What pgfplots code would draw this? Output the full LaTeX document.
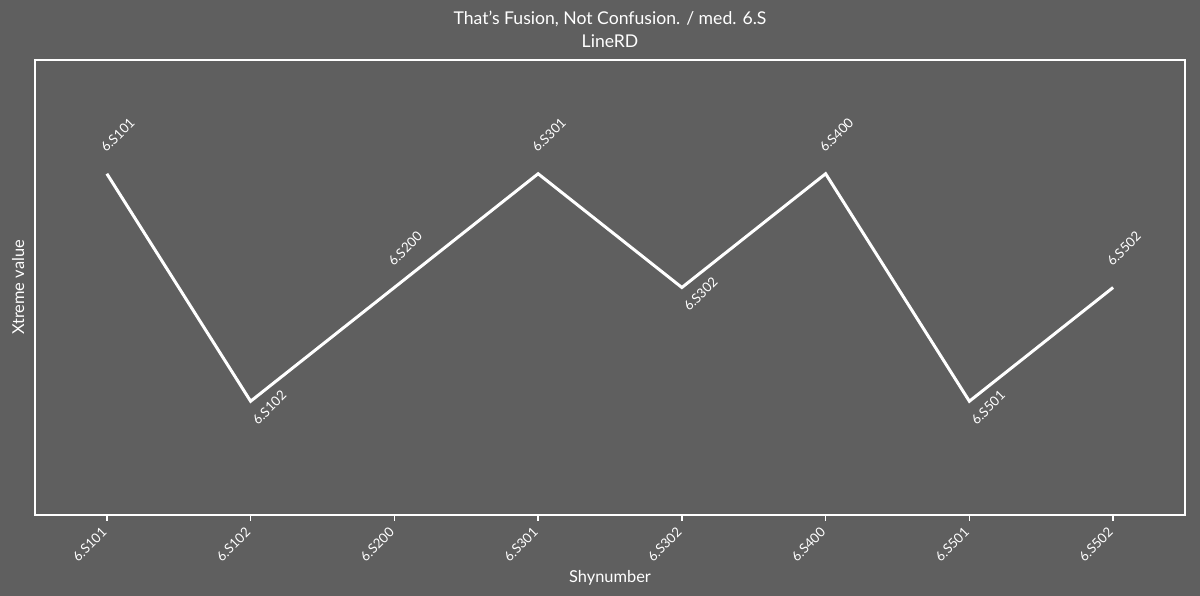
\documentclass[border=0pt]{standalone}
\usepackage{fontspec}
\setmainfont{Lato}
\usepackage{pgfplots}
\pgfplotsset{compat=1.18}
\usepackage{pgfplotstable}
\definecolor{bg}{RGB}{95,95,95}

\pgfplotstableread{
x y label
0 3 6.S101
2 2 6.S200
3 3 6.S301
5 3 6.S400
7 2 6.S502
}\uptab
\pgfplotstableread{
x y label
1 1 6.S102
4 2 6.S302
6 1 6.S501
}\lowtab

\begin{document}
\begin{tikzpicture}
\fill[bg] (0,0) rectangle (900pt,447pt);
\useasboundingbox (0,0) rectangle (900pt,447pt);
\begin{axis}[
  at={(26.25pt,60.75pt)}, anchor=south west,
  scale only axis, width=862.5pt, height=341.25pt,
  xmin=-0.5, xmax=7.5, ymin=0, ymax=4,
  axis line style={white, line width=1.1pt},
  xtick={0,...,7},
  xticklabels={6.S101,6.S102,6.S200,6.S301,6.S302,6.S400,6.S501,6.S502},
  ytick=\empty,
  tick align=outside, xtick pos=bottom,
  major tick length=4.5pt,
  every tick/.style={white, line width=1.1pt},
  x tick label style={rotate=45, anchor=north east, font=\fontsize{10}{11}\selectfont, text=white, inner sep=1pt, xshift=-5pt, yshift=1.5pt},
  xlabel={Shynumber}, ylabel={Xtreme value},
  label style={font=\fontsize{12.3}{14}\selectfont, text=white},
  xlabel style={yshift=-1pt},
  title={That's Fusion, Not Confusion. / med. 6.S\\LineRD},
  title style={align=center, font=\fontsize{13.2}{17.2}\selectfont, text=white, yshift=0pt},
  clip=false,
]
\addplot[white, line width=2.25pt] coordinates {(0,3) (1,1) (2,2) (3,3) (4,2) (5,3) (6,1) (7,2)};
\addplot[draw=none, nodes near coords, point meta=explicit symbolic,
  nodes near coords style={rotate=45, anchor=west, text=white, font=\fontsize{10}{11}\selectfont, inner sep=0pt, xshift=10.6pt, yshift=14.8pt}]
  table[x=x, y=y, meta=label] {\uptab};
\addplot[draw=none, nodes near coords, point meta=explicit symbolic,
  nodes near coords style={rotate=45, anchor=west, text=white, font=\fontsize{10}{11}\selectfont, inner sep=0pt, xshift=-9.2pt, yshift=-13.4pt}]
  table[x=x, y=y, meta=label] {\lowtab};
\end{axis}
\end{tikzpicture}
\end{document}
